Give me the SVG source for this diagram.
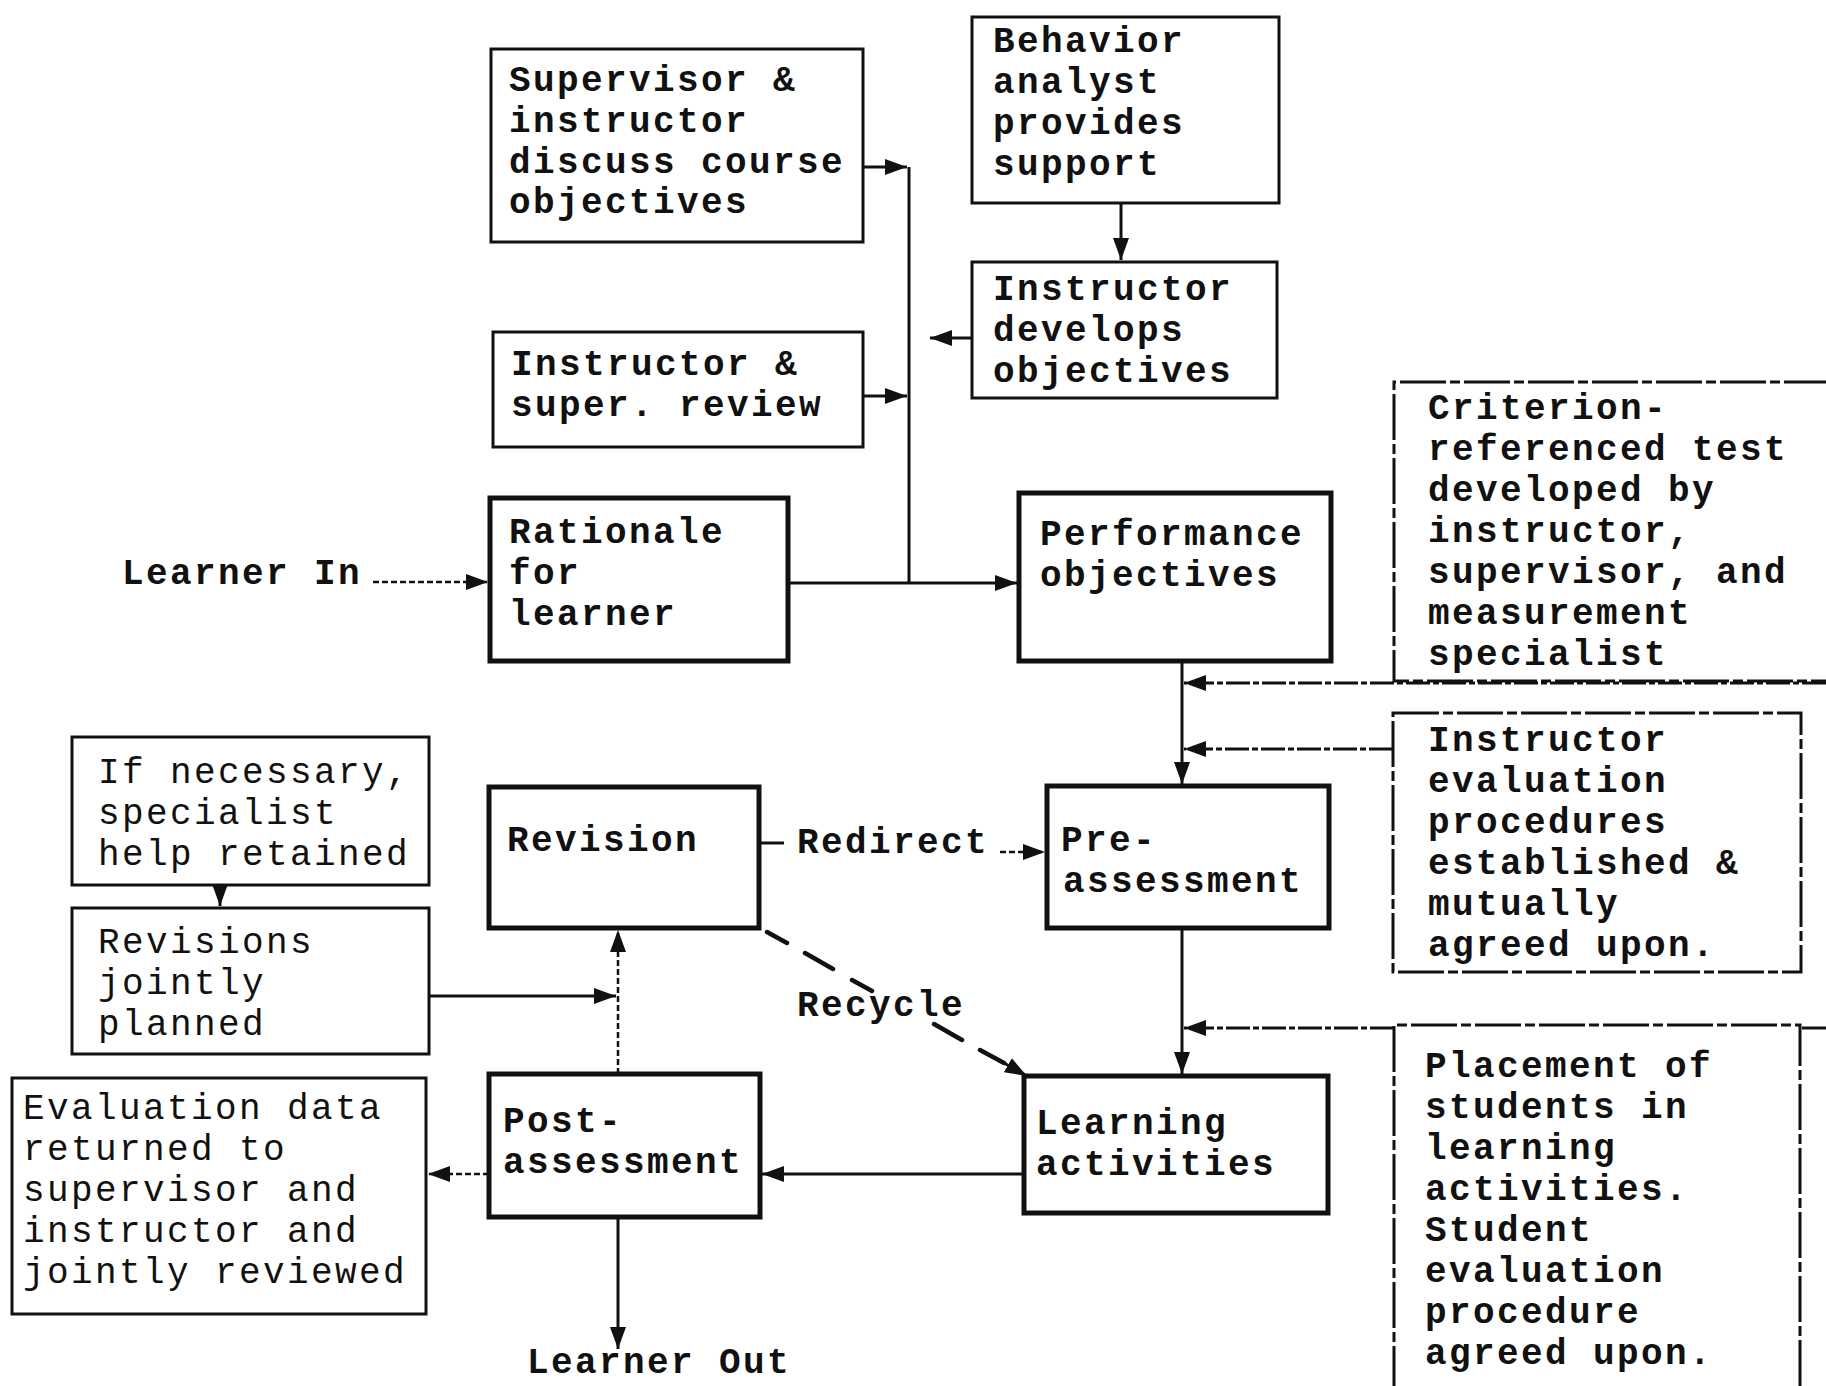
<svg xmlns="http://www.w3.org/2000/svg" width="1826" height="1386" viewBox="0 0 1826 1386">
<style>
text{font-family:"Liberation Mono","Courier New",monospace;font-size:36px;letter-spacing:2.4px;fill:#111;}
.b{font-weight:bold;}
.n{font-weight:normal;}
.main{fill:#fff;stroke:#111;stroke-width:5;}
.side{fill:#fff;stroke:#111;stroke-width:3;}
.dsh{fill:#fff;stroke:#111;stroke-width:3;stroke-dasharray:46 4 10 4;}
.ln{fill:none;stroke:#111;stroke-width:3;}
.dl{fill:none;stroke:#111;stroke-width:3;stroke-dasharray:24 3 6 3;}
.dot{fill:none;stroke:#111;stroke-width:2.5;stroke-dasharray:6 3;}
.rc{fill:none;stroke:#111;stroke-width:4.5;stroke-linecap:round;}
</style>
<defs>
<marker id="ah" markerUnits="userSpaceOnUse" markerWidth="24" markerHeight="18" refX="22" refY="9" orient="auto">
<path d="M0,1 L22,9 L0,17 Z" fill="#111"/>
</marker>
</defs>
<g id="connectors">
<path class="dot" d="M373,582 L488,582" marker-end="url(#ah)"/>
<path class="ln" d="M788,583 L1017,583" marker-end="url(#ah)"/>
<path class="ln" d="M909,583 L909,167"/>
<path class="ln" d="M863,167 L907,167" marker-end="url(#ah)"/>
<path class="ln" d="M863,396 L907,396" marker-end="url(#ah)"/>
<path class="ln" d="M972,338 L930,338" marker-end="url(#ah)"/>
<path class="ln" d="M1121,203 L1121,260" marker-end="url(#ah)"/>
<path class="ln" d="M1182,661 L1182,784" marker-end="url(#ah)"/>
<path class="dl" d="M1826,683 L1184,683" marker-end="url(#ah)"/>
<path class="dl" d="M1393,749 L1184,749" marker-end="url(#ah)"/>
<path class="ln" d="M1182,928 L1182,1074" marker-end="url(#ah)"/>
<path class="dl" d="M1826,1028 L1184,1028" marker-end="url(#ah)"/>
<path class="ln" d="M759,843 L784,843"/>
<path class="dot" d="M1000,852 L1045,852" marker-end="url(#ah)"/>
<path class="rc" d="M767,932 L787,943 M805,953 L833,969 M852,980 L872,991 M934,1024 L962,1040 M980,1050 L1004,1063"/>
<path class="ln" d="M1004,1063 L1027,1076" marker-end="url(#ah)"/>
<path class="ln" d="M1024,1174 L762,1174" marker-end="url(#ah)"/>
<path class="dot" d="M489,1174 L428,1174" marker-end="url(#ah)"/>
<path class="dot" d="M618,1074 L618,930" marker-end="url(#ah)"/>
<path class="ln" d="M429,996 L616,996" marker-end="url(#ah)"/>
<path class="ln" d="M220,885 L220,906" marker-end="url(#ah)"/>
<path class="ln" d="M618,1217 L618,1349" marker-end="url(#ah)"/>
</g>
<g id="learner-in"><text class="b" x="122" y="584">Learner In</text></g>
<g id="learner-out"><text class="b" x="527" y="1373">Learner Out</text></g>
<g id="redirect-label"><text class="b" x="797" y="853">Redirect</text></g>
<g id="recycle-label"><text class="b" x="797" y="1016">Recycle</text></g>
<g id="supervisor-discuss">
<rect class="side" x="491" y="49" width="372" height="193"/>
<text class="b"><tspan x="509" y="91">Supervisor &amp;</tspan><tspan x="509" y="132">instructor</tspan><tspan x="509" y="173">discuss course</tspan><tspan x="509" y="213">objectives</tspan></text>
</g>
<g id="behavior-analyst">
<rect class="side" x="972" y="17" width="307" height="186"/>
<text class="b"><tspan x="993" y="52">Behavior</tspan><tspan x="993" y="93">analyst</tspan><tspan x="993" y="134">provides</tspan><tspan x="993" y="175">support</tspan></text>
</g>
<g id="instructor-develops">
<rect class="side" x="972" y="262" width="305" height="136"/>
<text class="b"><tspan x="993" y="300">Instructor</tspan><tspan x="993" y="341">develops</tspan><tspan x="993" y="382">objectives</tspan></text>
</g>
<g id="instructor-review">
<rect class="side" x="493" y="332" width="370" height="115"/>
<text class="b"><tspan x="511" y="375">Instructor &amp;</tspan><tspan x="511" y="416">super. review</tspan></text>
</g>
<g id="rationale">
<rect class="main" x="490" y="498" width="298" height="163"/>
<text class="b"><tspan x="509" y="543">Rationale</tspan><tspan x="509" y="584">for</tspan><tspan x="509" y="625">learner</tspan></text>
</g>
<g id="performance">
<rect class="main" x="1019" y="493" width="312" height="168"/>
<text class="b"><tspan x="1040" y="545">Performance</tspan><tspan x="1040" y="586">objectives</tspan></text>
</g>
<g id="criterion">
<path class="dsh" d="M1830,382 L1394,382 L1394,681 L1830,681"/>
<text class="b"><tspan x="1428" y="419">Criterion-</tspan><tspan x="1428" y="460">referenced test</tspan><tspan x="1428" y="501">developed by</tspan><tspan x="1428" y="542">instructor,</tspan><tspan x="1428" y="583">supervisor, and</tspan><tspan x="1428" y="624">measurement</tspan><tspan x="1428" y="665">specialist</tspan></text>
</g>
<g id="instructor-evaluation">
<rect class="dsh" x="1393" y="713" width="408" height="259"/>
<text class="b"><tspan x="1428" y="751">Instructor</tspan><tspan x="1428" y="792">evaluation</tspan><tspan x="1428" y="833">procedures</tspan><tspan x="1428" y="874">established &amp;</tspan><tspan x="1428" y="915">mutually</tspan><tspan x="1428" y="956">agreed upon.</tspan></text>
</g>
<g id="pre-assessment">
<rect class="main" x="1047" y="786" width="282" height="142"/>
<text class="b"><tspan x="1061" y="851">Pre-</tspan><tspan x="1063" y="892">assessment</tspan></text>
</g>
<g id="revision">
<rect class="main" x="489" y="787" width="270" height="141"/>
<text class="b" x="507" y="851">Revision</text>
</g>
<g id="specialist-help">
<rect class="side" x="72" y="737" width="357" height="148"/>
<text class="n"><tspan x="98" y="783">If necessary,</tspan><tspan x="98" y="824">specialist</tspan><tspan x="98" y="865">help retained</tspan></text>
</g>
<g id="revisions-planned">
<rect class="side" x="72" y="908" width="357" height="146"/>
<text class="n"><tspan x="98" y="953">Revisions</tspan><tspan x="98" y="994">jointly</tspan><tspan x="98" y="1035">planned</tspan></text>
</g>
<g id="evaluation-data">
<rect class="side" x="12" y="1078" width="414" height="236"/>
<text class="n"><tspan x="23" y="1119">Evaluation data</tspan><tspan x="23" y="1160">returned to</tspan><tspan x="23" y="1201">supervisor and</tspan><tspan x="23" y="1242">instructor and</tspan><tspan x="23" y="1283">jointly reviewed</tspan></text>
</g>
<g id="post-assessment">
<rect class="main" x="489" y="1074" width="271" height="143"/>
<text class="b"><tspan x="503" y="1132">Post-</tspan><tspan x="503" y="1173">assessment</tspan></text>
</g>
<g id="learning-activities">
<rect class="main" x="1024" y="1076" width="304" height="137"/>
<text class="b"><tspan x="1036" y="1134">Learning</tspan><tspan x="1036" y="1175">activities</tspan></text>
</g>
<g id="placement">
<path class="dsh" d="M1394,1392 L1394,1025 L1800,1025 L1800,1392"/>
<text class="b"><tspan x="1425" y="1077">Placement of</tspan><tspan x="1425" y="1118">students in</tspan><tspan x="1425" y="1159">learning</tspan><tspan x="1425" y="1200">activities.</tspan><tspan x="1425" y="1241">Student</tspan><tspan x="1425" y="1282">evaluation</tspan><tspan x="1425" y="1323">procedure</tspan><tspan x="1425" y="1364">agreed upon.</tspan></text>
</g>
</svg>
